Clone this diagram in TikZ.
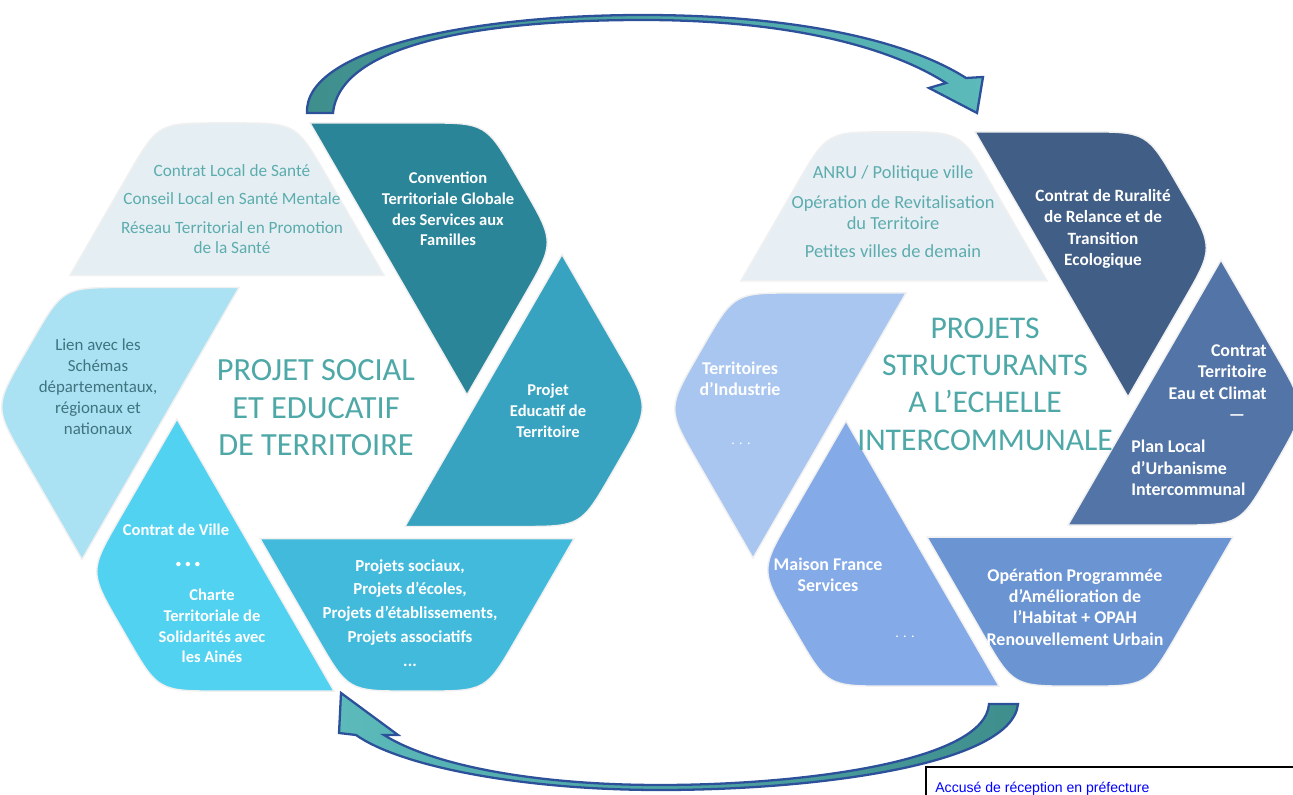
\documentclass[tikz,border=0pt]{standalone}
\usepackage{fontspec}
\setmainfont{Carlito}
\newfontfamily\arialfont{Liberation Sans}
\usetikzlibrary{calc}
\definecolor{LEdu}{RGB}{55,163,192}
\definecolor{LCtg}{RGB}{43,133,153}
\definecolor{LPale}{RGB}{229,239,243}
\definecolor{LLien}{RGB}{170,226,244}
\definecolor{LVille}{RGB}{80,210,240}
\definecolor{LProj}{RGB}{66,186,220}
\definecolor{REau}{RGB}{82,116,166}
\definecolor{RCrte}{RGB}{64,94,134}
\definecolor{RPale}{RGB}{232,239,244}
\definecolor{RIndus}{RGB}{168,198,240}
\definecolor{RMfs}{RGB}{132,170,232}
\definecolor{ROpah}{RGB}{106,148,210}
\definecolor{PaleTxt}{RGB}{92,172,174}
\definecolor{LienTxt}{RGB}{62,116,126}
\definecolor{TitleTeal}{RGB}{78,168,168}
\definecolor{ArrowDark}{RGB}{62,142,140}
\definecolor{ArrowLight}{RGB}{92,186,186}
\definecolor{ArrowEdge}{RGB}{45,80,155}
\newcommand{\bladeround}{62}
% one blade of the hexagon: angle, colour, R, a, c
\newcommand{\hexblade}[5]{%
  \fill[#2, rotate=#1, blade]
    ({#3-#4/2},{#4*0.866})
    -- ({#3-\bladeround/2},{\bladeround*0.866})
    .. controls (#3,0) .. ({#3-\bladeround/2},{-\bladeround*0.866})
    -- ({#3-#5/2+\bladeround/2},{-(#5-\bladeround)*0.866})
    .. controls ({#3-#5/2},{-#5*0.866}) .. ({#3-#5/2-\bladeround},{-#5*0.866})
    -- ({#3-#4-#5/2},{-#5*0.866}) -- cycle;}
\tikzset{
  blade/.style={draw=black!6, line width=0.8pt},
  bigtitle/.style={font=\fontsize{18.4}{21.4}\selectfont, text=TitleTeal, align=center, inner sep=0pt},
  whitetxt/.style={font=\bfseries\fontsize{9.4}{11.8}\selectfont, text=white, align=center, inner sep=0pt},
  rwhitetxt/.style={whitetxt, font=\bfseries\fontsize{10.2}{12.1}\selectfont},
  paletxt/.style={font=\fontsize{9.8}{11.3}\selectfont, text=PaleTxt, align=center, inner sep=0pt},
  loopshape/.style={draw=ArrowEdge, line width=1.3pt, line join=miter},
}

\begin{document}
\begin{tikzpicture}[x=0.02cm, y=0.02cm]
  \clip (0,0) rectangle (1293,794);
  \fill[white] (0,0) rectangle (1293,794);

  % left hexagon
  \begin{scope}[shift={(322,387)}]
    \foreach \ang/\col in {0/LEdu,60/LCtg,120/LPale,180/LLien,240/LVille,300/LProj}{
      \hexblade{\ang}{\col}{328}{176}{138}
    }
  \end{scope}
  \node[paletxt] (lsante) at (232,585) {Contrat Local de Santé\\[5pt] Conseil Local en Santé Mentale\\[5pt] Réseau Territorial en Promotion\\ de la Santé};
  \node[whitetxt] (lctg) at (448,585) {Convention\\ Territoriale Globale\\ des Services aux\\ Familles};
  \node[whitetxt] (lpedt) at (548,383) {Projet\\ Educatif de\\ Territoire};
  \node[whitetxt, font=\bfseries\fontsize{9.6}{13.6}\selectfont] (lprojets) at (410,181) {Projets sociaux,\\ Projets d’écoles,\\ Projets d’établissements,\\ Projets associatifs\\ ...};
  \node[whitetxt] (lville) at (176,264) {Contrat de Ville};
  \node[whitetxt, font=\bfseries\fontsize{6}{7}\selectfont] (ldots) at (188,229) {• \,• \,•};
  \node[whitetxt] (lcharte) at (212,168) {Charte\\ Territoriale de\\ Solidarités avec\\ les Ainés};
  \node[paletxt, text=LienTxt, font=\fontsize{9.6}{11.9}\selectfont] (llien) at (98,407) {Lien avec les\\ Schémas\\ départementaux,\\ régionaux et\\ nationaux};
  \node[bigtitle] (ltitle) at (316,386) {PROJET SOCIAL\\ ET EDUCATIF\\ DE TERRITOIRE};

  % right hexagon
  \begin{scope}[shift={(987,385)}]
    \foreach \ang/\col in {0/REau,60/RCrte,120/RPale,180/RIndus,240/RMfs,300/ROpah}{
      \hexblade{\ang}{\col}{320}{172}{134}
    }
  \end{scope}
  \node[paletxt, font=\fontsize{10.5}{12}\selectfont] (ranru) at (893,582) {ANRU / Politique ville\\[5pt] Opération de Revitalisation\\ du Territoire\\[4pt] Petites villes de demain};
  \node[rwhitetxt, font=\bfseries\fontsize{9.8}{12.1}\selectfont] (rcrte) at (1103,565) {Contrat de Ruralité\\ de Relance et de\\ Transition\\ Ecologique};
  \node[rwhitetxt, align=right, anchor=east] (rctec) at (1267,422) {Contrat\\ Territoire\\ Eau et Climat};
  \node[rwhitetxt] (rdash) at (1237,376) {—};
  \node[rwhitetxt, align=left, anchor=west] (rplui) at (1131,326) {Plan Local\\ d’Urbanisme\\ Intercommunal};
  \node[rwhitetxt] (ropah) at (1075,187) {Opération Programmée\\ d’Amélioration de\\ l’Habitat + OPAH\\ Renouvellement Urbain};
  \node[rwhitetxt] (rmfs) at (828,219) {Maison France\\ Services};
  \node[whitetxt, font=\fontsize{8}{9}\selectfont] (rmdots) at (905,157) {. . .};
  \node[rwhitetxt] (rindus) at (740,415) {Territoires\\ d’Industrie};
  \node[whitetxt, font=\fontsize{8}{9}\selectfont] (ridots) at (741,350) {. . .};
  \node[bigtitle, font=\fontsize{18}{21.3}\selectfont] (rtitle) at (985,410) {PROJETS\\ STRUCTURANTS\\ A L’ECHELLE\\ INTERCOMMUNALE};

  % loop arrows between the two hexagons
  \path[loopshape, left color=ArrowDark, right color=ArrowLight]
    (307,681) .. controls (304,745) and (470,779) .. (643,779)
    .. controls (790,779) and (905,755) .. (966,716)
    -- (983,717) -- (977,681) -- (929,706) -- (946,711)
    .. controls (885,750) and (780,774) .. (643,774)
    .. controls (480,774) and (340,750) .. (333,681) -- cycle;
  \path[loopshape, left color=ArrowLight, right color=ArrowDark]
    (1018,90) .. controls (1012,30) and (820,4) .. (660,4)
    .. controls (520,4) and (400,28) .. (356,59)
    -- (339,61) -- (341,101) -- (398,59) -- (384,59)
    .. controls (430,30) and (530,9) .. (660,9)
    .. controls (800,9) and (985,32) .. (989,90) -- cycle;

  % receipt stamp
  \draw[line width=0.6pt] (926,27) rectangle (1320,-20);
  \node[anchor=base west, inner sep=0pt, font=\arialfont\fontsize{8}{9.6}\selectfont, text=blue] (accuse) at (935,2) {Accusé de réception en préfecture};
\end{tikzpicture}
\end{document}
